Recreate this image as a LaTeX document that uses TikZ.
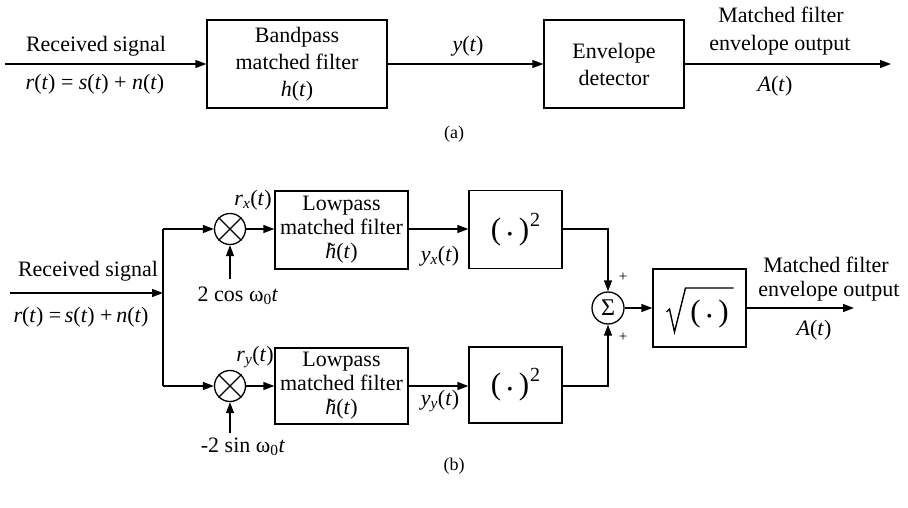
\documentclass[tikz,border=0pt]{standalone}
\usepackage{fontspec}
\setmainfont{Liberation Serif}
\usetikzlibrary{arrows.meta}
\newcommand{\tvar}[1]{\textit{#1}(\textit{t})}
\newcommand{\sqdot}{{\fontsize{16}{16}\selectfont\textbullet}}
\newcommand{\htil}{\textit{\rlap{\hspace{0.06em}\char"02DC}h}(\textit{t})}
\newcommand{\parsq}{(\hspace{6pt}\sqdot\hspace{6pt})\hspace{1pt}\raisebox{13pt}{\fontsize{20}{20}\selectfont 2}}
\begin{document}
\begin{tikzpicture}[x=1pt,y=-1pt,line width=1.3pt,
  arr/.style={-{Triangle[length=11pt,width=8pt]}},
  blk/.style={draw,inner sep=0pt,align=center,font=\fontsize{22}{27}\selectfont},
  lpblk/.style={blk,font=\fontsize{22}{24}\selectfont,minimum width=133pt,minimum height=78pt},
  sqblk/.style={draw,inner sep=0pt,minimum width=93pt,minimum height=78pt,font=\fontsize{31}{32}\selectfont},
  lbl/.style={anchor=base,inner sep=0pt,font=\fontsize{22}{26}\selectfont},
  mult/.style={draw,circle,inner sep=0pt,minimum size=31pt},
  plus/.style={anchor=center,inner sep=0pt,font=\fontsize{15}{15}\selectfont}]
\useasboundingbox (0,0) rectangle (908,508);

% ---------------- (a) bandpass matched filter with envelope detector
\coordinate (ain) at (5,64);
\coordinate (aout) at (891,64);
\node[blk,minimum width=180pt,minimum height=88pt] (bp) at (297,64)
  {Bandpass\\matched filter\\\tvar{h}};
\node[blk,minimum width=140pt,minimum height=88pt] (env) at (614,64)
  {Envelope\\detector};
\draw[arr] (ain) -- (bp.west);
\draw[arr] (bp.east) -- (env.west);
\draw[arr] (env.east) -- (aout);

\node[lbl] (arecv) at (96,52) {Received signal};
\node[lbl] (arsig) at (95,90) {\tvar{r} = \tvar{s} + \tvar{n}};
\node[lbl] (ay) at (468,52) {\tvar{y}};
\node[lbl] (amf) at (781,23) {Matched filter};
\node[lbl] (aeo) at (780,51) {envelope output};
\node[lbl] (aA) at (775,92) {\tvar{A}};
\node[lbl] (capa) at (454,139) {\fontsize{18}{20}\selectfont(a)};

% ---------------- (b) quadrature lowpass implementation
\coordinate (bin) at (10,293);
\coordinate (split) at (163,293);
\coordinate (splitT) at (163,229);
\coordinate (splitB) at (163,386);

\node[mult] (mx) at (230,229) {};
\node[mult] (my) at (230,386) {};
\foreach \m in {mx,my}{
  \draw (\m.north west) -- (\m.south east);
  \draw (\m.north east) -- (\m.south west);
}
\coordinate (lox) at (230,279);
\coordinate (loy) at (230,433);

\node[lpblk] (lpx) at (341.5,230) {Lowpass\\matched filter\\\htil};
\node[lpblk,minimum height=76pt] (lpy) at (341.5,386) {Lowpass\\matched filter\\\htil};

\node[sqblk] (sqx) at (515.5,229.5) {\parsq};
\node[sqblk,minimum height=76pt] (sqy) at (515.5,385) {\parsq};

\node[draw,circle,inner sep=0pt,minimum size=32pt,font=\fontsize{24}{24}\selectfont] (sum) at (608,308) {Σ};

\node[draw,inner sep=0pt,minimum width=93pt,minimum height=78pt] (sqrt) at (699.5,308) {};
% radical sign and its argument
\draw[line width=1.4pt,line join=miter] ([shift={(-33,4)}]sqrt.center) -- ([shift={(-30,1)}]sqrt.center)
  -- ([shift={(-25,24)}]sqrt.center) -- ([shift={(-14,-20)}]sqrt.center) -- ([shift={(34,-20)}]sqrt.center);
\node[inner sep=0pt,font=\fontsize{31}{32}\selectfont] (sqarg) at ([shift={(10,6)}]sqrt.center) {(\hspace{6pt}\sqdot\hspace{6pt})};
\coordinate (bout) at (854,308);

% input and branching
\draw[arr] (bin) -- (split);
\draw (splitT) -- (splitB);
\draw[arr] (splitT) -- (mx.west);
\draw[arr] (splitB) -- (my.west);
\draw[arr] (lox) -- (mx.south);
\draw[arr] (loy) -- (my.south);
\draw[arr] (mx.east) -- (lpx.west |- mx.east);
\draw[arr] (my.east) -- (lpy.west |- my.east);
\draw[arr] (lpx.east |- mx.east) -- (sqx.west |- mx.east);
\draw[arr] (lpy.east |- my.east) -- (sqy.west |- my.east);
\draw[arr] (sqx.east |- mx.east) -| (sum.north);
\draw[arr] (sqy.east |- my.east) -| (sum.south);
\draw[arr] (sum.east) -- (sqrt.west);
\draw[arr] (sqrt.east) -- (bout);

% labels
\node[lbl] (brecv) at (88,276) {Received signal};
\node[lbl] (brsig) at (81,322) {\textit{r}(\textit{t}) =\,\textit{s}(\textit{t}) +\,\textit{n}(\textit{t})};
\node[lbl] (brx) at (253,205) {\textit{r}\textsubscript{\textit{x}}(\textit{t})};
\node[lbl] (bry) at (255,361) {\textit{r}\textsubscript{\textit{y}}(\textit{t})};
\node[lbl] (bcos) at (238,301) {2 cos ω\textsubscript{0}\textit{t}};
\node[lbl] (bsin) at (243,452) {-2 sin ω\textsubscript{0}\textit{t}};
\node[lbl] (byx) at (440,261) {\textit{y}\textsubscript{\textit{x}}(\textit{t})};
\node[lbl] (byy) at (440,405) {\textit{y}\textsubscript{\textit{y}}(\textit{t})};
\node[plus] (pt) at (623,277) {+};
\node[plus] (pb) at (623,337) {+};
\node[lbl] (bmf) at (826,272) {Matched filter};
\node[lbl] (beo) at (829,296) {envelope output};
\node[lbl] (bA) at (814,335) {\tvar{A}};
\node[lbl] (capb) at (454,470) {\fontsize{18}{20}\selectfont(b)};
\end{tikzpicture}
\end{document}
